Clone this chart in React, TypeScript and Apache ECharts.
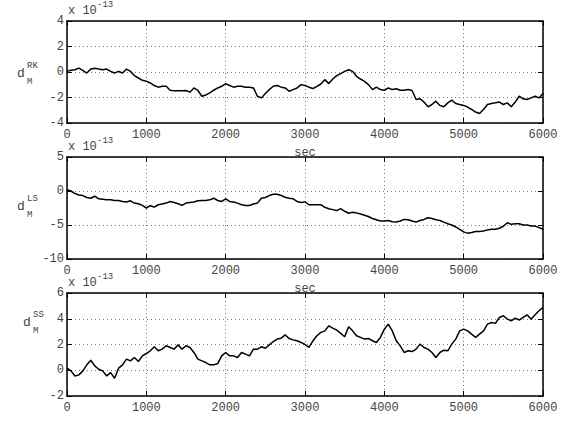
import React, { useEffect, useRef } from "react";
import * as echarts from "echarts";

// time step between samples (sec)
const T_STEP = 50;

const rk = [
  0.05, 0.13, 0.18, 0.3, 0.13, -0.08, 0.23, 0.3, 0.23, 0.18,
  0.23, 0.05, -0.08, 0.05, -0.08, 0.23, 0.05, -0.28, -0.47, -0.65,
  -0.73, -0.86, -1.06, -1.19, -1.12, -1.12, -1.43, -1.48, -1.48, -1.48,
  -1.45, -1.58, -1.25, -1.45, -1.9, -1.8, -1.64, -1.43, -1.25, -1.12,
  -0.91, -1.06, -1.19, -1.12, -1.12, -1.19, -1.19, -1.25, -1.9, -2.03,
  -1.69, -1.38, -1.12, -1.06, -1.19, -1.25, -1.51, -1.38, -1.25, -0.99,
  -1.06,
  -1.19, -1.3, -1.12, -0.94, -0.6, -0.91, -0.55, -0.29, -0.13, 0.05,
  0.18, 0.05, -0.34, -0.55, -0.73, -0.99, -1.38, -1.19, -1.38, -1.43,
  -1.25, -1.38, -1.32, -1.43, -1.43, -1.38, -1.45, -2.16, -2.1, -2.36,
  -2.73, -2.55, -2.29, -2.62, -2.73, -2.42, -2.21, -2.47, -2.55, -2.62,
  -2.75, -2.94, -3.14, -3.25, -2.94, -2.55, -2.47, -2.42, -2.36, -2.55,
  -2.42, -2.73, -2.36, -1.9, -2.1, -2.16, -2.03, -1.9, -2.03, -1.69,
];

const ls = [
  0.19, 0, -0.38, -0.58, -0.67, -0.96, -1.06, -0.77, -1.15, -1.2,
  -1.3, -1.3, -1.4, -1.4, -1.54, -1.63, -1.44, -1.78, -1.88, -2.12,
  -2.5, -2.16, -2.36, -2.02, -1.92, -1.78, -1.54, -1.68, -1.88, -2.12,
  -1.78, -1.68, -1.63, -1.44, -1.4, -1.4, -1.3, -1.06, -1.4, -1.54,
  -1.15, -1.54, -1.63, -1.78, -2.02, -2.12, -2.12, -1.92, -1.78, -1.06,
  -0.96, -0.67, -0.48, -0.48, -0.67, -0.91, -1.06, -1.15, -1.54, -1.68,
  -1.6,
  -2.02, -2.02, -2.02, -2.02, -2.4, -2.6, -2.74, -2.88, -2.6, -2.98,
  -3.27, -3.13, -3.22, -3.37, -3.56, -3.75, -4.04, -4.23, -4.42, -4.42,
  -4.33, -4.52, -4.57, -4.42, -4.18, -4.23, -4.42, -4.57, -4.33, -4.18,
  -3.94, -4.04, -4.23, -4.33, -4.57, -4.81, -5.0, -5.29, -5.63, -6.01,
  -6.2, -6.11, -5.96, -5.96, -5.87, -5.72, -5.63, -5.63, -5.48, -5.19,
  -4.66, -4.9, -4.81, -4.81, -5.0, -5.0, -5.14, -5.14, -5.38, -5.63,
];

const ss = [
  0.16, -0.05, -0.44, -0.36, -0.05, 0.42, 0.78, 0.34, 0.08, -0.05,
  -0.44, -0.18, -0.62, 0.16, 0.42, 0.86, 0.73, 0.99, 0.68, 1.12,
  1.3, 1.51, 1.82, 1.51, 1.64, 1.9, 1.77, 1.64, 1.97, 1.64,
  1.9, 1.77, 1.38, 0.86, 0.73, 0.6, 0.42, 0.42, 0.52, 1.12,
  1.38, 1.12, 1.12, 0.99, 1.38, 1.25, 1.12, 1.64, 1.64, 1.82,
  1.71, 1.97, 2.23, 2.42, 2.49, 2.75, 2.47, 2.36, 2.29, 2.16,
  2.0,
  1.77, 2.29, 2.68, 2.94, 3.06, 3.45, 3.27, 3.12, 2.86, 2.6,
  3.38, 3.06, 2.68, 2.55, 2.42, 2.47, 2.29, 2.16, 2.55, 3.19,
  3.58, 3.06, 2.29, 1.9, 1.38, 1.51, 1.45, 1.64, 2.03, 1.77,
  1.64, 1.38, 0.99, 1.38, 1.56, 1.51, 2.03, 2.42, 3.06, 3.19,
  3.06, 2.81, 2.55, 2.81, 3.06, 3.58, 3.71, 3.64, 4.1, 4.23,
  3.97, 3.84, 4.05, 3.9, 4.1, 4.31, 3.97, 4.31, 4.62, 4.88,
];

const seriesList = [rk, ls, ss];
const supLabels = ["RK", "LS", "SS"];
const yMins = [-4, -10, -2];
const yMaxs = [4, 5, 6];
const yIntervals = [2, 5, 2];
const xMin = 0;
const xMax = 6000;
const xInterval = 1000;
const xName = "sec";
const exponentLabel = "-13";

const MONO = '"Liberation Mono", "DejaVu Sans Mono", monospace';
const TXT = "#444";

export default function App() {
  const ref = useRef<HTMLDivElement>(null);

  useEffect(() => {
    if (!ref.current) return;
    const chart = echarts.init(ref.current, undefined, { renderer: "svg" });

    const gridTops = [21, 157, 293];
    const gridHeights = [102, 102, 103];
    const grid = gridTops.map((t, i) => ({
      left: 67,
      right: 19,
      top: t,
      height: gridHeights[i],
      containLabel: false,
    }));

    const axisLine = { show: true, onZero: false, lineStyle: { color: "#000", width: 1.5 } };
    const tick = { show: true, inside: true, length: 5, lineStyle: { color: "#000", width: 1 } };
    const split = { show: true, lineStyle: { color: "#777", width: 1, type: [1, 3] as any } };
    const plain = (v: number) => String(v);

    const xAxis: any[] = [];
    const yAxis: any[] = [];
    const series: any[] = [];

    seriesList.forEach((vals, i) => {
      xAxis.push({
        type: "value",
        gridIndex: i,
        position: "bottom",
        min: xMin,
        max: xMax,
        interval: xInterval,
        axisLine,
        axisTick: tick,
        splitLine: split,
        axisLabel: { color: TXT, fontFamily: MONO, fontSize: 12, margin: 6, formatter: plain },
        name: i < 2 ? xName : "",
        nameLocation: "middle",
        nameGap: 24,
        nameTextStyle: { color: TXT, fontFamily: MONO, fontSize: 12 },
      });
      xAxis.push({
        type: "value",
        gridIndex: i,
        position: "top",
        min: xMin,
        max: xMax,
        interval: xInterval,
        axisLine,
        axisTick: tick,
        splitLine: { show: false },
        axisLabel: { show: false },
      });
      yAxis.push({
        type: "value",
        gridIndex: i,
        position: "left",
        min: yMins[i],
        max: yMaxs[i],
        interval: yIntervals[i],
        axisLine,
        axisTick: tick,
        splitLine: split,
        axisLabel: { color: TXT, fontFamily: MONO, fontSize: 12, margin: 3, formatter: plain },
      });
      yAxis.push({
        type: "value",
        gridIndex: i,
        position: "right",
        min: yMins[i],
        max: yMaxs[i],
        interval: yIntervals[i],
        axisLine,
        axisTick: tick,
        splitLine: { show: false },
        axisLabel: { show: false },
      });
      series.push({
        type: "line",
        xAxisIndex: 2 * i,
        yAxisIndex: 2 * i,
        data: vals.map((v, k) => [k * T_STEP, v]),
        showSymbol: false,
        symbol: "none",
        lineStyle: { color: "#000", width: 1.5 },
        silent: true,
      });
    });

    const graphic: any[] = [];
    // exponent labels
    gridTops.forEach((t) => {
      graphic.push({
        type: "text",
        x: 68,
        y: t - 4,
        style: { text: "x 10", font: `12px ${MONO}`, fill: TXT, verticalAlign: "bottom", align: "left" },
      });
      graphic.push({
        type: "text",
        x: 97,
        y: t - 12,
        style: { text: exponentLabel, font: `9px ${MONO}`, fill: TXT, verticalAlign: "bottom", align: "left" },
      });
    });
    // y-axis labels d_M^XX
    const labelPos = [
      { x: 17, y: 80 },
      { x: 17, y: 213 },
      { x: 23, y: 329 },
    ];
    labelPos.forEach((p, i) => {
      graphic.push({
        type: "text",
        x: p.x,
        y: p.y,
        style: { text: "d", font: `13px ${MONO}`, fill: TXT, verticalAlign: "bottom", align: "left" },
      });
      graphic.push({
        type: "text",
        x: p.x + 10,
        y: p.y - 10,
        style: { text: supLabels[i], font: `9px ${MONO}`, fill: TXT, verticalAlign: "bottom", align: "left" },
      });
      graphic.push({
        type: "text",
        x: p.x + 10,
        y: p.y + 6,
        style: { text: "M", font: `9px ${MONO}`, fill: TXT, verticalAlign: "bottom", align: "left" },
      });
    });

    chart.setOption({
      animation: false,
      backgroundColor: "#fff",
      grid,
      xAxis,
      yAxis,
      series,
      graphic,
    });

    return () => chart.dispose();
  }, []);

  return <div ref={ref} style={{ width: 562, height: 423, position: "absolute", left: 0, top: 0 }} />;
}
